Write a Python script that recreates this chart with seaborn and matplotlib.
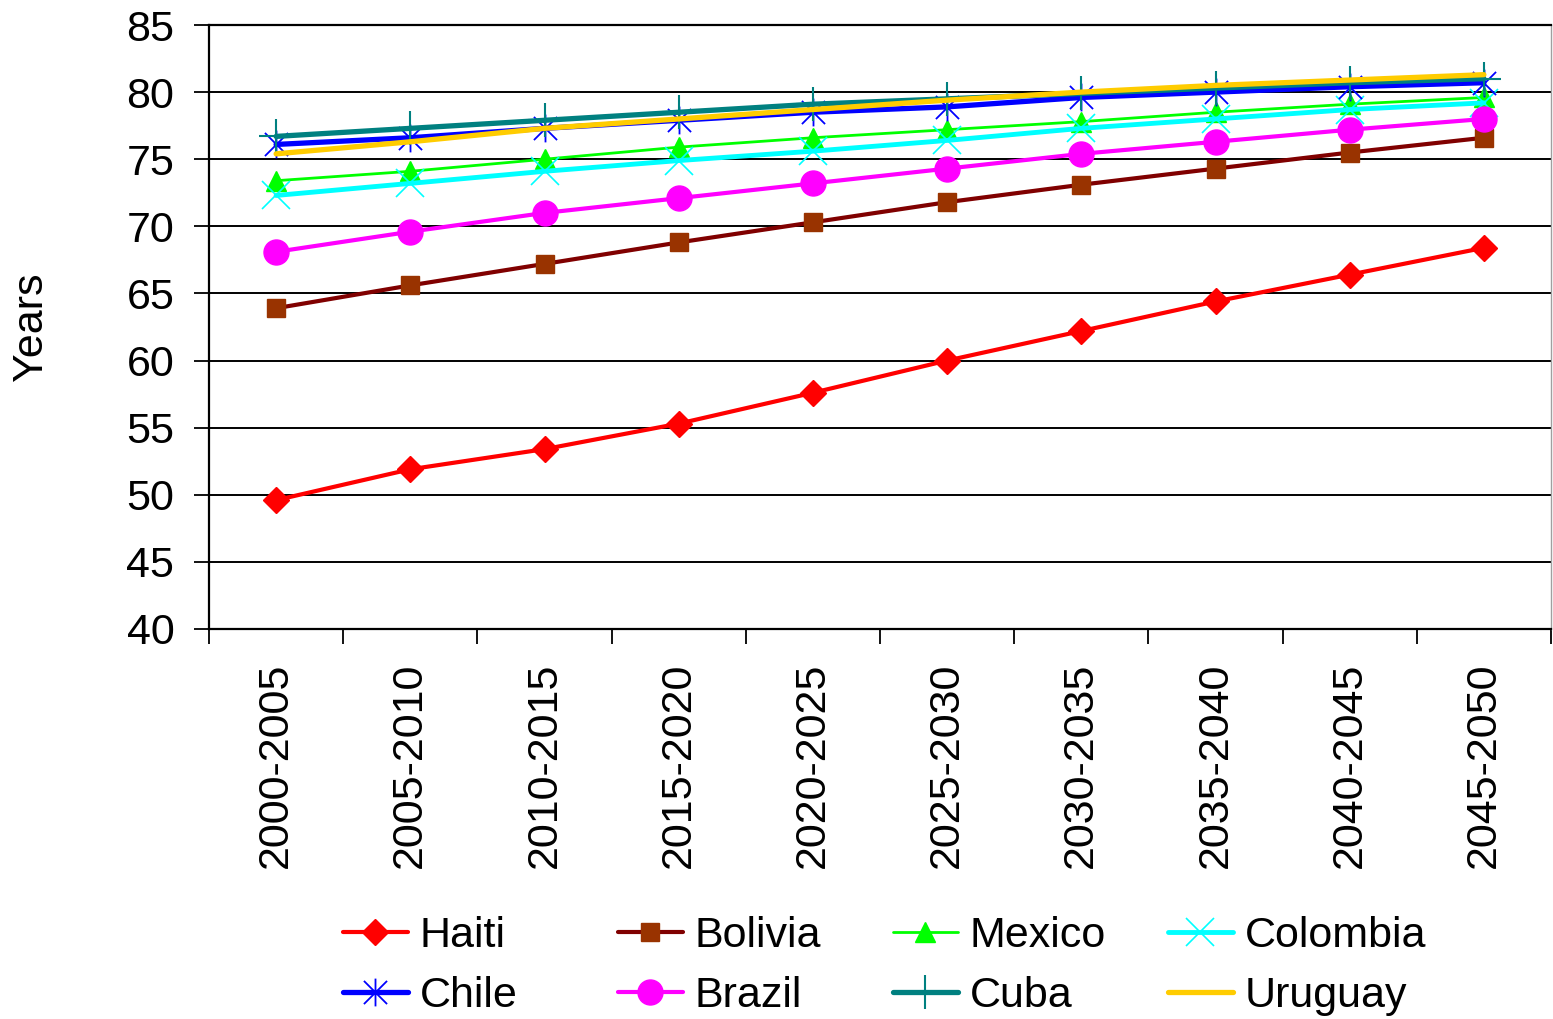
import numpy as np
import matplotlib
matplotlib.use("Agg")
import matplotlib.pyplot as plt
from matplotlib.path import Path
import seaborn as sns
import pandas as pd

periods = ["2000-2005", "2005-2010", "2010-2015", "2015-2020", "2020-2025",
           "2025-2030", "2030-2035", "2035-2040", "2040-2045", "2045-2050"]

haiti = [49.6, 51.9, 53.4, 55.3, 57.6, 60.0, 62.2, 64.4, 66.4, 68.4]
bolivia = [63.9, 65.6, 67.2, 68.8, 70.3, 71.8, 73.1, 74.3, 75.5, 76.6]
mexico = [73.4, 74.1, 75.0, 75.9, 76.6, 77.2, 77.8, 78.5, 79.1, 79.6]
colombia = [72.3, 73.2, 74.1, 74.9, 75.6, 76.4, 77.3, 78.0, 78.7, 79.2]
chile = [76.1, 76.6, 77.3, 77.9, 78.5, 78.9, 79.6, 80.0, 80.4, 80.7]
brazil = [68.1, 69.6, 71.0, 72.1, 73.2, 74.3, 75.4, 76.3, 77.2, 78.0]
cuba = [76.7, 77.3, 77.9, 78.5, 79.1, 79.5, 79.9, 80.3, 80.7, 81.0]
uruguay = [75.4, 76.3, 77.3, 78.0, 78.7, 79.4, 80.0, 80.5, 80.9, 81.3]

# asterisco estilo Excel: X + linha vertical
asterisk = Path([(-1, -1), (1, 1), (-1, 1), (1, -1), (0, -1.2), (0, 1.2)],
                [Path.MOVETO, Path.LINETO, Path.MOVETO, Path.LINETO, Path.MOVETO, Path.LINETO])

series = [
    ("Haiti", haiti, dict(color="#ff0000", lw=3, marker="D", ms=13, mfc="#ff0000", mec="#ff0000", mew=1)),
    ("Bolivia", bolivia, dict(color="#800000", lw=3, marker="s", ms=13, mfc="#993300", mec="#993300", mew=1)),
    ("Mexico", mexico, dict(color="#00ff00", lw=2, marker="^", ms=14, mfc="#00ff00", mec="#00ff00", mew=1)),
    ("Colombia", colombia, dict(color="#00ffff", lw=3.5, marker="x", ms=20, mfc="none", mec="#00ffff", mew=1.2)),
    ("Chile", chile, dict(color="#0000ff", lw=3.8, marker=asterisk, ms=20, mfc="none", mec="#0000ff", mew=1.3)),
    ("Brazil", brazil, dict(color="#ff00ff", lw=3, marker="o", ms=18, mfc="#ff00ff", mec="#ff00ff", mew=1)),
    ("Cuba", cuba, dict(color="#008080", lw=3.8, marker="+", ms=25, mfc="none", mec="#008080", mew=1.5)),
    ("Uruguay", uruguay, dict(color="#ffcc00", lw=3.8, marker=None)),
]

sns.set_theme(style="white", rc={"text.color": "black", "axes.labelcolor": "black",
                                 "xtick.color": "black", "ytick.color": "black"})
plt.rcParams["font.family"] = ["Liberation Sans", "DejaVu Sans"]

FS = 31
fig = plt.figure(figsize=(15.53, 10.19), dpi=100)
ax = fig.add_axes([209 / 1553, 1 - 629 / 1019, (1551 - 209) / 1553, (629 - 25) / 1019])

x = np.arange(len(periods))
handles = []
for name, vals, st in series:
    st = dict(st)
    color = st.pop("color")
    lw = st.pop("lw")
    sns.lineplot(x=x, y=vals, ax=ax, color=color, linewidth=lw, label=name, **st)
    handles.append(ax.lines[-1])
ax.get_legend().remove()

ax.set_xlim(-0.5, len(periods) - 0.5)
ax.set_ylim(40, 85)
ax.set_yticks(range(40, 86, 5))
ax.set_xticks(x)
ax.set_xticklabels(periods, rotation=90, fontsize=FS, va="top")
ax.set_xticks(np.arange(-0.5, len(periods), 1), minor=True)
ax.tick_params(axis="x", which="major", length=0, pad=24)
ax.tick_params(axis="x", which="minor", length=11, width=1.3, color="black", direction="out", bottom=True)
ax.tick_params(axis="y", length=11, width=1.3, color="black", direction="out", labelsize=FS, pad=14, left=True)
ax.yaxis.grid(True, color="black", linewidth=1.4)
ax.xaxis.grid(False)
ax.set_axisbelow(True)
ax.set_ylabel("Years", fontsize=FS, va="center")
ax.yaxis.set_label_coords((31 - 209) / 1342, 0.5)

for s in ["left", "bottom", "top"]:
    ax.spines[s].set_color("black")
    ax.spines[s].set_linewidth(1.6)
ax.spines["right"].set_color("#a0a0a0")
ax.spines["right"].set_linewidth(1.0)

# legenda em 4 colunas de largura fixa
col_x = [343, 618, 893, 1168]
for i, cx in enumerate(col_x):
    hs = [handles[i], handles[i + 4]]
    lg = fig.legend(hs, [h.get_label() for h in hs], loc="center left",
                    bbox_to_anchor=(cx / 1553, 1 - 966 / 1019),
                    frameon=False, fontsize=FS, handlelength=1.5, handletextpad=0.28,
                    labelspacing=0.48, borderpad=0, borderaxespad=0)

fig.savefig("out.png", dpi=100)
